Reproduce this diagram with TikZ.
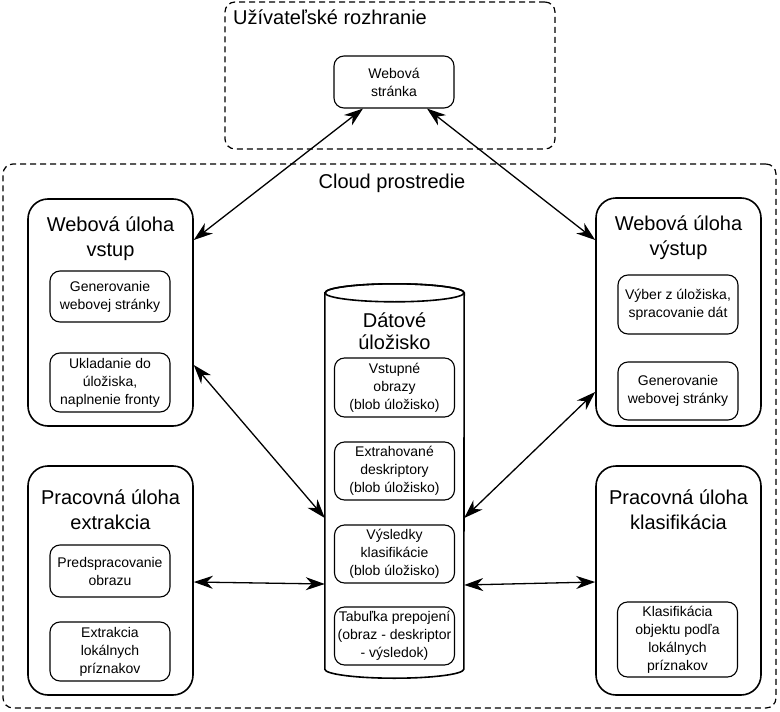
\documentclass[tikz,border=0pt]{standalone}
\usepackage{fontspec}
\setmainfont{Liberation Sans}
\usetikzlibrary{arrows.meta}
\begin{document}
\begin{tikzpicture}[x=1pt,y=-1pt,
 bigbox/.style={draw, line width=1.6pt, rounded corners=20pt, fill=white, minimum width=165pt, inner sep=0pt},
 smallbox/.style={draw, line width=1.1pt, rounded corners=10pt, fill=white, align=center, inner sep=0pt, font=\fontsize{14}{18}\selectfont, minimum width=120pt},
 areabox/.style={draw, line width=1.2pt, dash pattern=on 6pt off 4pt, rounded corners=10pt, inner sep=0pt},
 title/.style={font=\fontsize{20}{25}\selectfont, align=center, anchor=base, inner sep=0pt},
 link/.style={line width=1.3pt, {Stealth[length=19pt,width=13pt,inset=6pt]}-{Stealth[length=19pt,width=13pt,inset=6pt]}}
]
\useasboundingbox (0,0) rectangle (780,712);

% areas
\node[areabox, minimum width=330pt, minimum height=147pt] (ui) at (390,75.5) {};
\node[title, anchor=base west] (uilabel) at (233,24) {Užívateľské rozhranie};
\node[areabox, minimum width=773pt, minimum height=544pt] (cloud) at (389.5,436) {};
\node[title] (cloudlabel) at (392,188) {Cloud prostredie};

% web page
\node[smallbox, minimum height=52pt] (web) at (394,82) {Webová\\stránka};

% web role input
\node[bigbox, minimum height=227pt] (vstup) at (110.5,312.5) {};
\node[title] (vstuptitle) at (110.5,256) {Webová úloha\\vstup};
\node[smallbox, minimum height=51pt] (vin1) at (110,296.5) {Generovanie\\webovej stránky};
\node[smallbox, minimum height=59pt] (vin2) at (110,382.5) {Ukladanie do\\úložiska,\\naplnenie fronty};

% web role output
\node[bigbox, minimum height=228pt] (vystup) at (678.5,312) {};
\node[title] (vystuptitle) at (678.5,255) {Webová úloha\\výstup};
\node[smallbox, minimum height=59pt] (vout1) at (678,304.5) {Výber z úložiska,\\spracovanie dát};
\node[smallbox, minimum height=58pt] (vout2) at (678,391) {Generovanie\\webovej stránky};

% worker extraction
\node[bigbox, minimum height=229pt] (ext) at (110.5,580.5) {};
\node[title] (exttitle) at (110.5,529) {Pracovná úloha\\extrakcia};
\node[smallbox, minimum height=52pt] (ext1) at (110,571) {Predspracovanie\\obrazu};
\node[smallbox, minimum height=59pt] (ext2) at (110,651.5) {Extrakcia\\lokálnych\\príznakov};

% worker classification
\node[bigbox, minimum height=229pt] (kla) at (678.5,580.5) {};
\node[title] (klatitle) at (678.5,529) {Pracovná úloha\\klasifikácia};
\node[smallbox, minimum height=75pt] (kla1) at (677.5,639.5) {Klasifikácia\\objektu podľa\\lokálnych\\príznakov};

% storage cylinder
\node[minimum width=139pt, minimum height=376pt, inner sep=0pt] (db) at (394.5,481) {};
\draw[line width=1.6pt, fill=white] (db.north west) -- (db.south west)
  arc[start angle=180, end angle=360, x radius=69.5pt, y radius=9pt] -- (db.north east)
  arc[start angle=0, end angle=180, x radius=69.5pt, y radius=9pt] -- cycle;
\draw[line width=1.6pt] (db.north) ellipse[x radius=69.5pt, y radius=9pt];
\node[title, font=\fontsize{20}{22}\selectfont] (dbtitle) at (394.5,349) {Dátové\\úložisko};
\node[smallbox, minimum height=59pt] (s1) at (394.5,387.5) {Vstupné\\obrazy\\(blob úložisko)};
\node[smallbox, minimum height=58pt] (s2) at (394.5,471) {Extrahované\\deskriptory\\(blob úložisko)};
\node[smallbox, minimum height=58pt] (s3) at (394.5,554) {Výsledky\\klasifikácie\\(blob úložisko)};
\node[smallbox, minimum height=58pt] (s4) at (394.5,636) {Tabuľka prepojení\\(obraz - deskriptor\\- výsledok)};

% connectors
\draw[link] ([xshift=-31pt]web.south) -- ([yshift=72.5pt]vstup.east);
\draw[link] ([xshift=33pt]web.south) -- ([yshift=72pt]vystup.west);
\draw[link] ([yshift=-52.5pt]vstup.east) -- ([yshift=-37pt]db.west);
\draw[link] ([yshift=-80pt]vystup.west) -- ([yshift=-37pt]db.east);
\draw[link] ([yshift=-1.5pt]ext.east) -- ([yshift=-103pt]db.west);
\draw[link] ([yshift=-104pt]db.east) -- ([yshift=-1.5pt]kla.west);
\end{tikzpicture}
\end{document}
